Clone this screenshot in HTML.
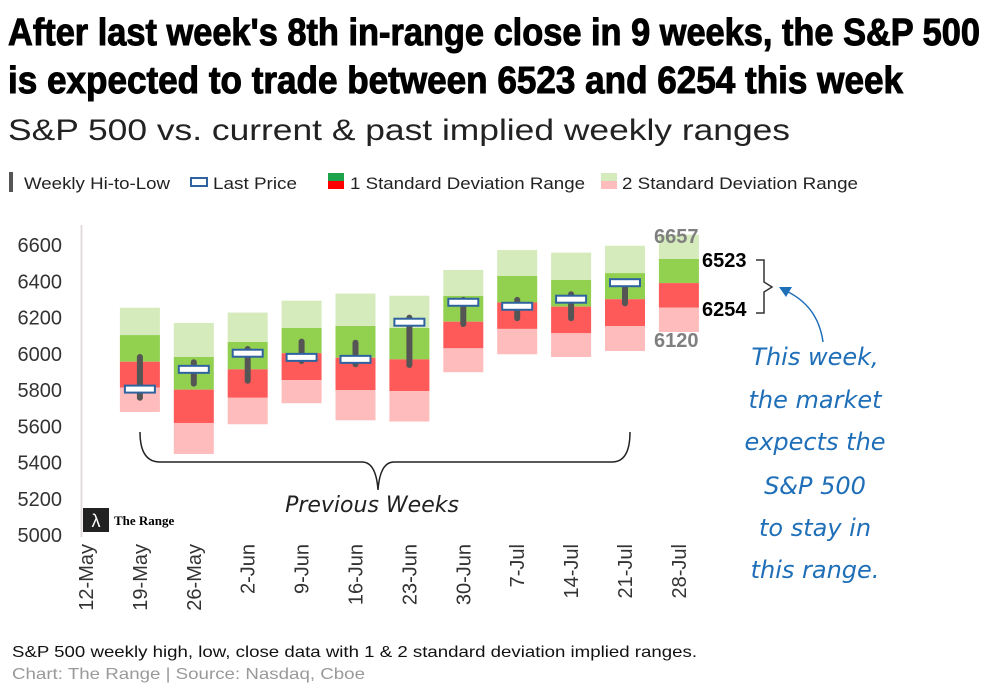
<!DOCTYPE html>
<html><head><meta charset="utf-8"><style>
body{margin:0;background:#fff;width:1007px;height:700px;overflow:hidden}
svg{display:block;font-family:"Liberation Sans",sans-serif}
</style></head><body>
<svg id="c" width="1007" height="700">
<text x="8" y="45" font-family="Liberation Sans Narrow, Liberation Sans, sans-serif" font-weight="bold" font-size="38" textLength="972" lengthAdjust="spacingAndGlyphs" stroke="#000" stroke-width="1">After last week's 8th in-range close in 9 weeks, the S&amp;P 500</text>
<text x="8" y="93" font-family="Liberation Sans Narrow, Liberation Sans, sans-serif" font-weight="bold" font-size="38" textLength="895" lengthAdjust="spacingAndGlyphs" stroke="#000" stroke-width="1">is expected to trade between  6523 and 6254 this week</text>
<text x="8" y="140" font-size="30" fill="#222" textLength="782" lengthAdjust="spacingAndGlyphs">S&amp;P 500 vs. current &amp; past implied weekly ranges</text>
<g font-size="17" fill="#222">
<rect x="9" y="172" width="4" height="20" fill="#555"/>
<text x="24" y="189" textLength="146" lengthAdjust="spacingAndGlyphs">Weekly Hi-to-Low</text>
<rect x="191" y="178" width="16" height="8" fill="#fff" stroke="#2e63a0" stroke-width="2"/>
<text x="213" y="189" textLength="84" lengthAdjust="spacingAndGlyphs">Last Price</text>
<rect x="328" y="173" width="16" height="8" fill="#1fa34a"/><rect x="328" y="181" width="16" height="8" fill="#f00"/>
<text x="350" y="189" textLength="235" lengthAdjust="spacingAndGlyphs">1 Standard Deviation Range</text>
<rect x="601" y="173" width="16" height="8" fill="#d5ebbc"/><rect x="601" y="181" width="16" height="8" fill="#ffbcbc"/>
<text x="622" y="189" textLength="236" lengthAdjust="spacingAndGlyphs">2 Standard Deviation Range</text>
</g>
<line x1="81.5" y1="225" x2="81.5" y2="537" stroke="#e0dcdc" stroke-width="2"/>
<g id="marks"></g>
<g id="axes" font-size="20" fill="#333"></g>
<path d="M140,432 Q140,462 160,462 L362,462 Q376,462 378,490 Q380,462 394,462 L612,462 Q630,462 630,432" fill="none" stroke="#222" stroke-width="1.5"/>
<text x="372" y="512" font-size="22" text-anchor="middle" font-family="DejaVu Sans, sans-serif" font-style="italic" fill="#222">Previous Weeks</text>
<g>
<rect x="83" y="508" width="26" height="24" fill="#222"/>
<text x="96" y="527" font-size="18" fill="#fff" text-anchor="middle">λ</text>
<text x="114" y="525" font-size="13" font-weight="bold" font-family="Liberation Serif, serif">The Range</text>
</g>
<g font-weight="bold" font-size="20">
<text x="654" y="243" fill="#7f7f7f">6657</text>
<text x="702" y="267" fill="#000">6523</text>
<text x="702" y="316" fill="#000">6254</text>
<text x="654" y="347" fill="#7f7f7f">6120</text>
</g>
<path d="M756,260 L764,260 L764,282 L772,287 L764,292 L764,313 L756,313" fill="none" stroke="#333" stroke-width="1.5"/>
<path d="M823,342 Q818,305 784,290" fill="none" stroke="#1f6fb8" stroke-width="1.5"/>
<path d="M779,287 L792,287 L786,297 Z" fill="#1f6fb8"/>
<g font-size="24" fill="#1f6fb8" text-anchor="middle" font-family="DejaVu Sans, sans-serif" font-style="italic">
<text x="815" y="365">This week,</text>
<text x="815" y="408">the market</text>
<text x="815" y="450">expects the</text>
<text x="815" y="494">S&amp;P 500</text>
<text x="815" y="536">to stay in</text>
<text x="815" y="578">this range.</text>
</g>
<text x="12" y="657" font-size="16" fill="#111" textLength="685" lengthAdjust="spacingAndGlyphs">S&amp;P 500 weekly high, low, close data with 1 &amp; 2 standard deviation implied ranges.</text>
<text x="12" y="679" font-size="16" fill="#999" textLength="353" lengthAdjust="spacingAndGlyphs">Chart: The Range | Source: Nasdaq, Cboe</text>
</svg>
<script>
const categories=["12-May","19-May","26-May","2-Jun","9-Jun","16-Jun","23-Jun","30-Jun","7-Jul","14-Jul","21-Jul","28-Jul"];
const sd2Upper=[null,6254,6170,6227,6293,6332,6320,6462,6572,6558,6596,6657];
const sd1Upper=[null,6103,5982,6065,6142,6153,6142,6319,6429,6407,6445,6523];
const midPrice=[null,5956,5802,5914,6003,5978,5969,6177,6283,6260,6301,6390];
const sd1Lower=[null,5813,5618,5757,5855,5800,5794,6030,6137,6113,6152,6254];
const sd2Lower=[null,5679,5447,5611,5727,5633,5626,5898,5997,5982,6015,6120];
const weekHigh=[null,5982,5953,6026,6067,6061,6199,6297,6297,6328,6394,null];
const weekLow=[null,5757,5835,5851,5960,5942,5938,6164,6196,6196,6278,null];
const lastPrice=[null,5805,5914,6003,5980,5969,6174,6284,6262,6301,6392,null];
const yTicks=[5000,5200,5400,5600,5800,6000,6200,6400,6600];
const NS="http://www.w3.org/2000/svg";
const y=v=>535-(v-5000)*0.18125;
const x=i=>86+i*53.9;
const marks=document.getElementById('marks'),axes=document.getElementById('axes');
function mk(tag,attrs,parent){const e=document.createElementNS(NS,tag);for(const k in attrs)e.setAttribute(k,attrs[k]);parent.appendChild(e);return e;}
function band(i,a,b,fill,name){const r=mk('rect',{x:x(i)-20,y:y(a),width:40,height:y(b)-y(a),fill:fill},marks);

}
categories.forEach((c,i)=>{
 if(sd2Upper[i]!=null){
  band(i,sd2Upper[i],sd1Upper[i],'#d5ebbc','sd2-upper-band');
  band(i,sd1Upper[i],midPrice[i],'#92d050','sd1-upper-band');
  band(i,midPrice[i],sd1Lower[i],'#ff5a5a','sd1-lower-band');
  band(i,sd1Lower[i],sd2Lower[i],'#ffbcbc','sd2-lower-band');
 }
 if(weekHigh[i]!=null){
  const l=mk('line',{x1:x(i),x2:x(i),y1:y(weekHigh[i]),y2:y(weekLow[i]),stroke:'#555','stroke-width':6,'stroke-linecap':'round'},marks);
  
  
 }
 if(lastPrice[i]!=null){
  const r=mk('rect',{x:x(i)-15,y:y(lastPrice[i])-3.5,width:30,height:7,fill:'#fff',stroke:'#2e63a0','stroke-width':2},marks);
  
  
 }
 const t=mk('text',{x:0,y:0,'text-anchor':'end',transform:`translate(${x(i)+7},544) rotate(-90)`},axes);
 t.textContent=c;
 
 
});
yTicks.forEach(v=>{
 const t=mk('text',{x:62,y:y(v)+7,'text-anchor':'end'},axes);
 t.textContent=v;
 
 
});
</script>
</body></html>
